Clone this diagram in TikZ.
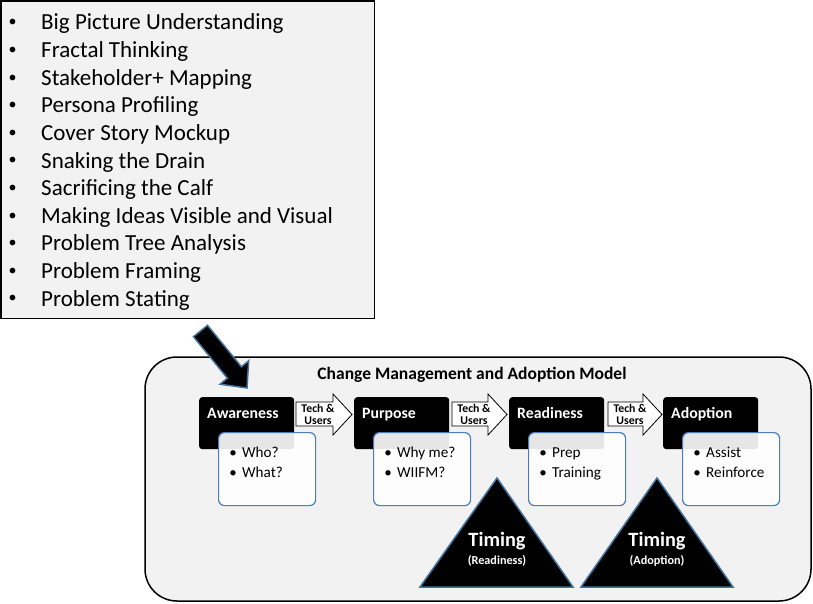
\documentclass[tikz,border=0pt]{standalone}
\usepackage{fontspec}
\setmainfont{Carlito}
\definecolor{panel}{HTML}{F2F2F2}
\definecolor{tribord}{HTML}{41719C}
\definecolor{boxbord}{HTML}{4A7EBB}
\tikzset{
  listbox/.style={draw=black, line width=1.6pt, fill=panel},
  panelbox/.style={draw=black, line width=1.5pt, fill=panel, rounded corners=32pt},
  listtext/.style={font=\fontsize{23}{27}\selectfont, anchor=base west, inner sep=0pt},
  listbullet/.style={font=\fontsize{16}{20}\selectfont, anchor=center, inner sep=0pt},
  titletext/.style={font=\fontsize{17.5}{20}\selectfont\bfseries, anchor=base, inner sep=0pt},
  stagebox/.style={fill=black, rounded corners=3pt, minimum width=95pt, minimum height=52pt, anchor=north west, inner sep=0pt},
  stagelabel/.style={font=\fontsize{15.8}{18}\selectfont\bfseries, text=white, anchor=base west, inner sep=0pt},
  infobox/.style={draw=boxbord, line width=1.2pt, fill=white, fill opacity=0.9, text opacity=1, rounded corners=6pt, minimum width=97pt, minimum height=73pt, anchor=north west, inner sep=0pt},
  itemtext/.style={font=\fontsize{15.2}{18}\selectfont, anchor=base west, inner sep=0pt},
  itembullet/.style={font=\fontsize{15}{18}\selectfont, anchor=base, inner sep=0pt},
  flowarrow/.style={draw=black, line width=0.8pt, fill=white, line join=miter},
  flowtext/.style={font=\fontsize{11.8}{12}\selectfont\bfseries, anchor=base, inner sep=0pt},
  bigarrow/.style={fill=black, draw=tribord, line width=1.5pt, line join=miter},
  timingtri/.style={fill=black, draw=tribord, line width=1.5pt, line join=miter},
  timingbig/.style={font=\fontsize{20.3}{24}\selectfont\bfseries, text=white, anchor=base, inner sep=0pt},
  timingsmall/.style={font=\fontsize{12.2}{14}\selectfont\bfseries, text=white, anchor=base, inner sep=0pt},
}
\begin{document}
\begin{tikzpicture}[x=1pt,y=-1pt]
\useasboundingbox (0,0) rectangle (813,604);
% list panel
\draw[listbox] (1,1) rectangle (374.5,318.5);
\foreach \t [count=\i] in {Big Picture Understanding, Fractal Thinking, Stakeholder+ Mapping, Persona Profiling, Cover Story Mockup, Snaking the Drain, Sacrificing the Calf, Making Ideas Visible and Visual, Problem Tree Analysis, Problem Framing, Problem Stating} {
  \node[listbullet] (lb\i) at (12.5, 23.3+27.6*\i-27.6) {•};
  \node[listtext] (lt\i) at (41, 30+27.6*\i-27.6) {\t};
}
% main panel
\draw[panelbox] (145,357) rectangle (811,601);
\node[titletext] (title) at (472,379) {Change Management and Adoption Model};
% big arrow
\draw[bigarrow] (207.5,325.3) -- (241.4,366.8) -- (248.7,360.8) -- (247,388) -- (220.1,384.2) -- (227.4,378.2) -- (193.5,336.7) -- cycle;
% stages
\foreach \x/\n/\t/\a/\b in {199/aw/Awareness/Who?/What?, 354/pu/Purpose/Why me?/WIIFM?, 509/re/Readiness/Prep/Training, 663/ad/Adoption/Assist/Reinforce} {
  \node[stagebox] (\n) at (\x,397) {};
  \node[stagelabel] (\n-l) at (\x+8,418) {\t};
  \node[infobox] (\n-i) at (\x+19,432) {};
  \node[itembullet] (\n-b1) at (\x+34,457) {•};
  \node[itemtext] (\n-t1) at (\x+43,457) {\a};
  \node[itembullet] (\n-b2) at (\x+34,477) {•};
  \node[itemtext] (\n-t2) at (\x+43,477) {\b};
}
% flow arrows
\foreach \s/\e [count=\k] in {296/352, 452/507, 608/662} {
  \draw[flowarrow] (\s,402) -- (\e-19,402) -- (\e-19,394) -- (\e,414.5) -- (\e-19,435) -- (\e-19,426) -- (\s,426) -- cycle;
  \node[flowtext] (ft\k a) at (\s+22,412) {Tech \&};
  \node[flowtext] (ft\k b) at (\s+22,424) {Users};
}
% timing triangles
\draw[timingtri] (420,587) -- (497,478) -- (573,587) -- cycle;
\node[timingbig] (tim1) at (497,546) {Timing};
\node[timingsmall] (tim1s) at (497,564) {(Readiness)};
\draw[timingtri] (581,587) -- (657,478) -- (733,587) -- cycle;
\node[timingbig] (tim2) at (657,546) {Timing};
\node[timingsmall] (tim2s) at (657,564) {(Adoption)};
\end{tikzpicture}
\end{document}
